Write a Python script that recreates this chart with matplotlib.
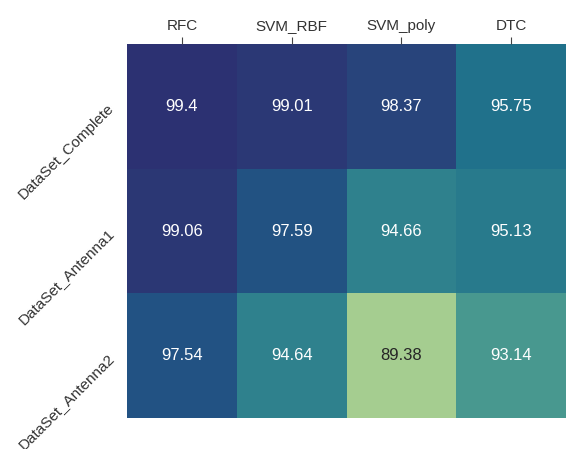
import numpy as np
import pandas as pd
import matplotlib
matplotlib.use("Agg")
import matplotlib.pyplot as plt
import seaborn as sns

models = ["RFC", "SVM_RBF", "SVM_poly", "DTC"]
datasets = ["DataSet_Complete", "DataSet_Antenna1", "DataSet_Antenna2"]
complete = [99.4, 99.01, 98.37, 95.75]
antenna1 = [99.06, 97.59, 94.66, 95.13]
antenna2 = [97.54, 94.64, 89.38, 93.14]

df = pd.DataFrame([complete, antenna1, antenna2], index=datasets, columns=models)

plt.rcParams["font.family"] = ["Liberation Sans", "DejaVu Sans"]

fig = plt.figure(figsize=(5.66, 4.49), dpi=100)
ax = fig.add_axes([0.2244, 0.069, 0.7756, 0.833])
sns.heatmap(df, annot=True, fmt="g", cmap="crest", cbar=False, ax=ax,
            annot_kws={"fontsize": 12})

# Spaltennamen oben
ax.xaxis.tick_top()
ax.tick_params(axis="x", length=5, width=0.8, color="#444444", labelsize=11,
               labelcolor="#333333", pad=3)
ax.tick_params(axis="y", length=0, labelsize=11, labelcolor="#333333", pad=11)
plt.setp(ax.get_xticklabels(), rotation=0)
plt.setp(ax.get_yticklabels(), rotation=45, ha="right", va="center",
         rotation_mode="anchor")
ax.set_xlabel("")
ax.set_ylabel("")

fig.savefig("out.png", dpi=100)
